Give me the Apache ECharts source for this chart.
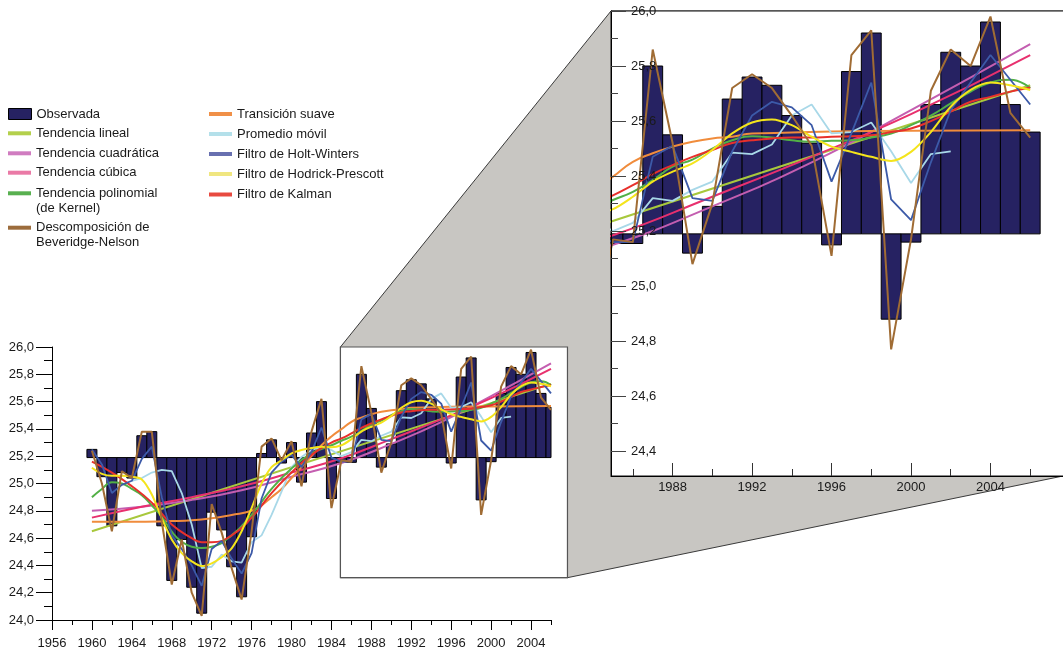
<!DOCTYPE html>
<html><head><meta charset="utf-8">
<script src="https://cdn.jsdelivr.net/npm/echarts@6/dist/echarts.min.js"></script>
<style>html,body{margin:0;padding:0;background:#fff}#c{width:1063px;height:654px}</style>
</head><body><div id="c"></div>
<script>
// ---------------- DATA ----------------
const YEARS = [1960,1961,1962,1963,1964,1965,1966,1967,1968,1969,1970,1971,1972,1973,1974,1975,1976,1977,1978,1979,1980,1981,1982,1983,1984,1985,1986,1987,1988,1989,1990,1991,1992,1993,1994,1995,1996,1997,1998,1999,2000,2001,2002,2003,2004,2005,2006];
const BASELINE = 25.19;
const OBSERVADA = [25.25,25.05,24.69,25.08,25.04,25.35,25.38,24.69,24.29,24.59,24.24,24.05,24.79,24.66,24.39,24.17,24.61,25.22,25.32,25.15,25.30,25.01,25.37,25.60,24.89,25.155,25.155,25.80,25.55,25.12,25.29,25.68,25.76,25.73,25.62,25.52,25.15,25.78,25.92,24.88,25.16,25.66,25.85,25.80,25.96,25.66,25.56];
const BEVERIDGE_NELSON = [25.24,25.00,24.65,25.09,25.04,25.38,25.38,24.72,24.26,24.59,24.20,24.03,24.85,24.64,24.38,24.15,24.65,25.27,25.33,25.17,25.31,24.98,25.38,25.62,24.82,25.17,25.16,25.86,25.52,25.08,25.30,25.72,25.77,25.72,25.62,25.51,25.11,25.84,25.93,24.77,25.17,25.71,25.86,25.80,25.98,25.63,25.54];
const HOLT_WINTERS = [25.25,25.14,24.93,24.99,25.02,25.18,25.27,24.90,24.62,24.52,24.40,24.25,24.52,24.58,24.45,24.34,24.49,24.89,25.08,25.16,25.21,25.12,25.23,25.41,25.19,25.16,25.16,25.47,25.51,25.32,25.31,25.49,25.62,25.67,25.65,25.585,25.38,25.555,25.74,25.315,25.24,25.45,25.64,25.74,25.84,25.75,25.66];
const HODRICK_PRESCOTT = [25.115,25.07,25.056,25.056,25.05,25.03,24.92,24.745,24.59,24.49,24.43,24.395,24.415,24.46,24.525,24.65,24.82,25.00,25.12,25.17,25.22,25.245,25.26,25.27,25.265,25.28,25.325,25.38,25.416,25.446,25.495,25.555,25.595,25.606,25.585,25.543,25.507,25.488,25.47,25.455,25.488,25.56,25.652,25.713,25.74,25.73,25.713];
const MA_YEARS = [1964,1965,1966,1967,1968,1969,1970,1971,1972,1973,1974,1975,1976,1977,1978,1979,1980,1981,1982,1983,1984,1985,1986,1987,1988,1989,1990,1991,1992,1993,1994,1995,1996,1997,1998,1999,2000,2001,2002];
const PROMEDIO_MOVIL = [25.02,25.04,25.08,25.10,25.09,24.93,24.70,24.38,24.39,24.48,24.43,24.42,24.57,24.62,24.77,24.94,25.12,25.195,25.245,25.27,25.245,25.20,25.23,25.32,25.31,25.35,25.38,25.485,25.48,25.515,25.62,25.66,25.555,25.56,25.595,25.49,25.375,25.48,25.49];
const LINEAL_YEARS = [1960,2006];
const LINEAL = [24.65,25.73];
const QUAD_YEARS = [1960,1965,1970,1975,1980,1985,1990,1995,2000,2006];
const CUADRATICA = [24.80,24.83,24.88,24.95,25.05,25.15,25.29,25.45,25.64,25.88];
const CUB_YEARS = [1960,1965,1970,1975,1980,1985,1990,1995,2000,2006];
const CUBICA = [24.75,24.83,24.90,24.98,25.08,25.185,25.325,25.47,25.625,25.84];
const KERNEL_YEARS = [1960,1961,1962,1963,1964,1965,1966,1967,1968,1969,1970,1971,1972,1974,1976,1978,1980,1982,1984,1985,1986,1987,1988,1989,1990,1991,1992,1993,1994,1995,1996,1997,1998,1999,2000,2001,2002,2003,2004,2005,2006];
const KERNEL = [24.90,24.96,25.01,25.00,24.96,24.915,24.84,24.756,24.647,24.573,24.537,24.528,24.537,24.62,24.77,24.96,25.11,25.22,25.28,25.313,25.343,25.385,25.434,25.46,25.50,25.53,25.545,25.54,25.53,25.525,25.528,25.53,25.54,25.555,25.585,25.62,25.664,25.707,25.74,25.75,25.72];
const SUAVE_YEARS = [1960,1964,1968,1970,1972,1974,1976,1977,1978,1979,1980,1981,1982,1983,1984,1985,1986,1987,1988,1989,1990,1991,1992,1994,1996,2000,2006];
const TRANSICION = [24.72,24.72,24.725,24.73,24.745,24.77,24.80,24.84,24.90,24.96,25.04,25.12,25.20,25.28,25.345,25.398,25.452,25.483,25.507,25.525,25.537,25.543,25.555,25.558,25.562,25.565,25.567];
const KALMAN_YEARS = [1960,1962,1964,1966,1968,1970,1971,1972,1974,1976,1978,1980,1982,1984,1985,1986,1987,1988,1989,1990,1991,1992,1993,1994,1995,1996,1997,1998,1999,2000,2001,2002,2003,2004,2005,2006];
const KALMAN = [25.16,25.08,24.98,24.86,24.70,24.60,24.57,24.57,24.62,24.75,24.93,25.08,25.21,25.30,25.33,25.367,25.407,25.44,25.47,25.495,25.52,25.53,25.537,25.54,25.54,25.543,25.545,25.548,25.56,25.573,25.60,25.634,25.67,25.688,25.707,25.722];

// axis tick labels
const MAIN_X_LABELS = [1956,1960,1964,1968,1972,1976,1980,1984,1988,1992,1996,2000,2004];
const MAIN_X_MINOR = [1958,1962,1966,1970,1974,1978,1982,1986,1990,1994,1998,2002,2006];
const MAIN_Y_LABELS = [24.0,24.2,24.4,24.6,24.8,25.0,25.2,25.4,25.6,25.8,26.0];
const MAIN_Y_MINOR = [24.1,24.3,24.5,24.7,24.9,25.1,25.3,25.5,25.7,25.9];
const ZOOM_X_LABELS = [1988,1992,1996,2000,2004];
const ZOOM_X_MINOR = [1986,1990,1994,1998,2002,2006];
const ZOOM_Y_LABELS = [24.4,24.6,24.8,25.0,25.2,25.4,25.6,25.8,26.0];
const ZOOM_Y_MINOR = [24.5,24.7,24.9,25.1,25.3,25.5,25.7,25.9];
const MAIN_X_RANGE = [1956, 2006];
const MAIN_Y_RANGE = [24.0, 26.0];
const ZOOM_X_RANGE = [1984.9, 2007.65];
const ZOOM_Y_RANGE = [24.31, 26.0];

// ---------------- CHART ----------------
const FONT = "'Liberation Sans', Arial, Helvetica, sans-serif";
const TXT = '#1a1a1a';
const chart = echarts.init(document.getElementById('c'), null, {renderer: 'canvas'});

const NAMES = {
  obs: 'Observada', lin: 'Tendencia lineal', quad: 'Tendencia cuadrática', cub: 'Tendencia cúbica',
  ker: 'Tendencia polinomial\n(de Kernel)', bn: 'Descomposición de\nBeveridge-Nelson',
  sua: 'Transición suave', ma: 'Promedio móvil', hw: 'Filtro de Holt-Winters',
  hp: 'Filtro de Hodrick-Prescott', kal: 'Filtro de Kalman'
};
const COLORS = {
  obs: '#262262', lin: '#a8c83c', quad: '#c45eb0', cub: '#e8306e', ker: '#52b046', bn: '#a06c34',
  sua: '#f08c3c', ma: '#a8d8e8', hw: '#3c5aa8', hp: '#f4e41c', kal: '#e8302c'
};
const LEGEND_COLORS = {
  obs: '#262262', lin: '#b4d04c', quad: '#d07cc0', cub: '#ea7aa6', ker: '#58b050', bn: '#9c6c3c',
  sua: '#f09048', ma: '#b4e0ea', hw: '#6870b0', hp: '#f0e680', kal: '#e84a40'
};

function pairs(xs, ys) { return xs.map((x, i) => [x, ys[i]]); }

function barSeries(axisIdx) {
  return {
    type: 'custom', name: NAMES.obs, coordinateSystem: 'cartesian2d',
    xAxisIndex: axisIdx, yAxisIndex: axisIdx, z: 2, silent: true,
    itemStyle: {color: COLORS.obs, borderColor: '#000', borderWidth: 1},
    encode: {x: 0, y: 1},
    data: pairs(YEARS, OBSERVADA),
    renderItem: function (params, api) {
      const yr = api.value(0), v = api.value(1);
      const p1 = api.coord([yr - 0.5, BASELINE]);
      const p2 = api.coord([yr + 0.5, v]);
      const cs = params.coordSys;
      const r = echarts.graphic.clipRectByRect(
        {x: p1[0], y: Math.min(p1[1], p2[1]), width: p2[0] - p1[0], height: Math.abs(p2[1] - p1[1])},
        {x: cs.x, y: cs.y, width: cs.width, height: cs.height});
      if (!r) return null;
      return {type: 'rect', shape: r, style: {fill: COLORS.obs, stroke: '#000', lineWidth: 1}};
    }
  };
}
function lineSeries(key, xs, ys, axisIdx, width, smooth) {
  return {
    type: 'line', name: NAMES[key], xAxisIndex: axisIdx, yAxisIndex: axisIdx,
    data: pairs(xs, ys), showSymbol: false, symbol: 'none', smooth: smooth,
    lineStyle: {color: COLORS[key], width: width}, itemStyle: {color: COLORS[key]},
    z: 3, silent: true, clip: true
  };
}
function allSeries(axisIdx) {
  return [
    barSeries(axisIdx),
    lineSeries('lin', LINEAL_YEARS, LINEAL, axisIdx, 2, false),
    lineSeries('quad', QUAD_YEARS, CUADRATICA, axisIdx, 2, true),
    lineSeries('cub', CUB_YEARS, CUBICA, axisIdx, 2, true),
    lineSeries('sua', SUAVE_YEARS, TRANSICION, axisIdx, 2, true),
    lineSeries('ma', MA_YEARS, PROMEDIO_MOVIL, axisIdx, 1.8, false),
    lineSeries('ker', KERNEL_YEARS, KERNEL, axisIdx, 2, true),
    lineSeries('kal', KALMAN_YEARS, KALMAN, axisIdx, 2, true),
    lineSeries('hw', YEARS, HOLT_WINTERS, axisIdx, 1.8, false),
    lineSeries('hp', YEARS, HODRICK_PRESCOTT, axisIdx, 2, 0.3),
    lineSeries('bn', YEARS, BEVERIDGE_NELSON, axisIdx, 2, false)
  ];
}

const fmtDec = v => Number(v).toFixed(1).replace('.', ',');
const lbl = (extra) => Object.assign({fontFamily: FONT, fontSize: 13, color: TXT}, extra);

function xAxis(grid, range, labels, tickLen, inside, margin, tickColor, z) {
  return {
    type: 'value', gridIndex: grid, min: range[0], max: range[1], position: 'bottom', z: z,
    axisLine: {show: true, onZero: false, lineStyle: {color: '#000', width: 1}},
    axisTick: {show: true, inside: inside, length: tickLen, customValues: labels, lineStyle: {color: tickColor, width: 1}},
    axisLabel: lbl({show: true, margin: margin, customValues: labels, formatter: v => String(Math.round(v))}),
    splitLine: {show: false}
  };
}
function xMinor(grid, range, ticks, tickLen, inside, tickColor, z) {
  return {
    type: 'value', gridIndex: grid, min: range[0], max: range[1], position: 'bottom', z: z,
    axisLine: {show: false, onZero: false},
    axisTick: {show: true, inside: inside, length: tickLen, customValues: ticks, lineStyle: {color: tickColor, width: 1}},
    axisLabel: {show: false}, splitLine: {show: false}
  };
}
function yAxis(grid, range, labels, tickLen, inside, margin, tickColor, z) {
  return {
    type: 'value', gridIndex: grid, min: range[0], max: range[1], position: 'left', z: z,
    axisLine: {show: true, onZero: false, lineStyle: {color: '#000', width: 1}},
    axisTick: {show: true, inside: inside, length: tickLen, customValues: labels, lineStyle: {color: tickColor, width: 1}},
    axisLabel: lbl({show: true, inside: inside, margin: margin, customValues: labels, formatter: fmtDec}),
    splitLine: {show: false}
  };
}
function yMinor(grid, range, ticks, tickLen, inside, tickColor, z) {
  return {
    type: 'value', gridIndex: grid, min: range[0], max: range[1], position: 'left', z: z,
    axisLine: {show: false, onZero: false},
    axisTick: {show: true, inside: inside, length: tickLen, customValues: ticks, lineStyle: {color: tickColor, width: 1}},
    axisLabel: {show: false}, splitLine: {show: false}
  };
}

// legend layout: [key, left, center of first text line, multiline]
const LEGEND_LAYOUT = [
  ['obs', 8, 114, false], ['lin', 8, 133.3, false], ['quad', 8, 153.3, false], ['cub', 8, 172.7, false],
  ['ker', 8, 193.3, true], ['bn', 8, 227.7, true],
  ['sua', 209, 114, false], ['ma', 209, 134, false], ['hw', 209, 154, false], ['hp', 209, 174, false], ['kal', 209, 194.5, false]
];
const legends = LEGEND_LAYOUT.map(([key, left, center, multi]) => {
  const isBar = key === 'obs';
  return {
    show: true, left: left, top: multi ? center - 22.5 : center - 7.5, padding: 0,
    orient: 'vertical', selectedMode: false, icon: 'rect',
    itemWidth: 23, itemHeight: isBar ? 11 : 4,
    itemStyle: isBar ? {color: LEGEND_COLORS[key], borderColor: '#000', borderWidth: 1}
                     : {color: LEGEND_COLORS[key], borderWidth: 0},
    formatter: multi ? (n => '\n' + n) : (n => n),
    textStyle: {fontFamily: FONT, fontSize: 13, color: TXT, lineHeight: 15},
    data: [NAMES[key]]
  };
});

chart.setOption({
  animation: false,
  backgroundColor: '#fff',
  legend: legends,
  grid: [
    {left: 52, top: 347, width: 499, height: 273, containLabel: false},
    {left: 611, top: 11, width: 452, height: 465, containLabel: false}
  ],
  xAxis: [
    xAxis(0, MAIN_X_RANGE, MAIN_X_LABELS, 10, false, 17, '#000', 0),
    xMinor(0, MAIN_X_RANGE, MAIN_X_MINOR, 5, false, '#000', 0),
    xAxis(1, ZOOM_X_RANGE, ZOOM_X_LABELS, 13, true, 5, '#333', 10),
    xMinor(1, ZOOM_X_RANGE, ZOOM_X_MINOR, 7, true, '#333', 10)
  ],
  yAxis: [
    yAxis(0, MAIN_Y_RANGE, MAIN_Y_LABELS, 16, false, 18, '#000', 0),
    yMinor(0, MAIN_Y_RANGE, MAIN_Y_MINOR, 8, false, '#000', 0),
    yAxis(1, ZOOM_Y_RANGE, ZOOM_Y_LABELS, 15, true, 20, '#444', 10),
    yMinor(1, ZOOM_Y_RANGE, ZOOM_Y_MINOR, 7, true, '#444', 10)
  ],
  series: allSeries(0).concat(allSeries(2))
});

// zoom frame + connector, positioned through the axes
const mainPix = p => chart.convertToPixel({xAxisIndex: 0, yAxisIndex: 0}, p);
const zoomPix = p => chart.convertToPixel({xAxisIndex: 2, yAxisIndex: 2}, p);
const A = mainPix([ZOOM_X_RANGE[0], ZOOM_Y_RANGE[1]]);
const D = mainPix([ZOOM_X_RANGE[1], ZOOM_Y_RANGE[0]]);
const E = mainPix([ZOOM_X_RANGE[0], ZOOM_Y_RANGE[0]]);
const B = zoomPix([ZOOM_X_RANGE[0], ZOOM_Y_RANGE[1]]);
const T = zoomPix([ZOOM_X_RANGE[1], ZOOM_Y_RANGE[1]]);
const C = zoomPix([ZOOM_X_RANGE[1], ZOOM_Y_RANGE[0]]);
chart.setOption({
  graphic: {elements: [
    {type: 'polygon', z: -3, silent: true, shape: {points: [A, B, T, C, D, E]},
     style: {fill: '#c8c6c2', stroke: '#3a3a3a', lineWidth: 1}},
    {type: 'rect', z: -2, silent: true, shape: {x: A[0], y: A[1], width: D[0] - A[0], height: D[1] - A[1]},
     style: {fill: '#fff', stroke: '#555', lineWidth: 1.2}},
    {type: 'rect', z: -2, silent: true, shape: {x: B[0], y: B[1], width: C[0] - B[0] + 2, height: C[1] - B[1]},
     style: {fill: '#fff', stroke: '#111', lineWidth: 1}}
  ]}
});
</script>
</body></html>
